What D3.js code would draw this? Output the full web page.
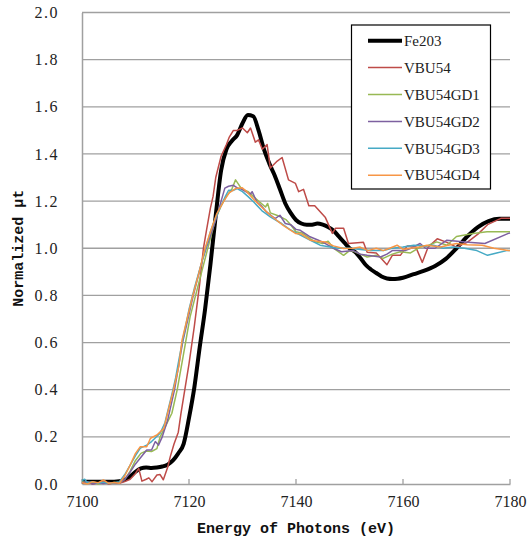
<!DOCTYPE html>
<html><head><meta charset="utf-8">
<script src="https://cdn.jsdelivr.net/npm/d3@7"></script>
<style>
html,body{margin:0;padding:0;background:#fff;}
svg{display:block;}
.serif{font-family:"Liberation Serif","DejaVu Serif",serif;}
.mono{font-family:"Liberation Mono","DejaVu Sans Mono",monospace;font-weight:bold;}
</style></head>
<body>
<svg id="chart" width="531" height="543"></svg>
<script>
// ---- data ----
const seriesNames = ["Fe203","VBU54","VBU54GD1","VBU54GD2","VBU54GD3","VBU54GD4"];
const seriesColors = ["#000000","#BE4B48","#98B954","#7D60A0","#46AAC5","#F79646"];
const xTicks = [7100,7120,7140,7160,7180];
const yTicks = [0,0.2,0.4,0.6,0.8,1.0,1.2,1.4,1.6,1.8,2.0];

const fe2o3E = [7100,7102,7104,7106,7107,7108,7109,7110,7111,7112,7113,7114,7115,7116,7117,7118,7119,7120,7121,7122,7123,7124,7125,7126,7127,7128,7129,7130,7131,7132,7133,7134,7135,7136,7137,7138,7139,7140,7141,7142,7143,7144,7145,7146,7147,7148,7149,7150,7151,7152,7153,7154,7155,7156,7157,7158,7159,7160,7162,7164,7166,7168,7170,7172,7174,7176,7178,7180];
const fe2o3Mu = [0.01,0.01,0.01,0.01,0.012,0.018,0.032,0.052,0.066,0.07,0.068,0.07,0.074,0.082,0.1,0.13,0.17,0.28,0.41,0.58,0.74,0.93,1.14,1.33,1.42,1.455,1.48,1.53,1.565,1.56,1.5,1.42,1.36,1.31,1.25,1.19,1.15,1.12,1.105,1.1,1.1,1.105,1.1,1.09,1.075,1.05,1.025,1.0,0.985,0.96,0.93,0.91,0.895,0.88,0.872,0.87,0.871,0.875,0.89,0.905,0.925,0.955,1.0,1.05,1.09,1.115,1.125,1.125];

const vbu54E = [7100,7101,7102,7103,7104,7105,7106,7107,7108,7109,7110,7110.6,7111.2,7112,7112.5,7113.1,7114,7114.6,7115.2,7116,7116.5,7117.2,7118,7118.5,7119,7120,7121,7122,7122.7,7123.3,7124,7124.5,7125,7126,7127,7127.5,7128.3,7129,7130,7130.9,7131.5,7132.4,7133,7133.7,7134.6,7135.2,7136.5,7137.4,7138.6,7139.9,7140.5,7141.4,7142.4,7143.5,7145.5,7146.8,7147.4,7148.9,7149.8,7152.6,7153.3,7155,7157,7158,7159.5,7160.8,7162.3,7163.6,7164.7,7166.4,7168.2,7170,7172,7174,7175.8,7178.3,7180];
const vbu54Mu = [0.005,0.01,0.0,0.005,0.01,0.0,0.005,0.003,0.01,0.02,0.045,0.066,0.012,0.02,0.026,0.01,0.038,0.04,0.018,0.07,0.116,0.17,0.22,0.3,0.37,0.51,0.67,0.85,1.0,1.08,1.17,1.22,1.3,1.39,1.44,1.47,1.5,1.5,1.51,1.49,1.51,1.45,1.46,1.42,1.44,1.34,1.37,1.385,1.29,1.275,1.24,1.25,1.18,1.18,1.13,1.063,1.085,1.085,1.02,1.025,0.983,0.98,0.93,0.97,0.97,1.01,1.01,0.94,1.005,1.04,1.025,1.005,1.025,1.06,1.10,1.127,1.127];

const gd1E = [7100,7101,7102,7103,7104,7105,7106,7107,7108,7109,7110,7111,7112,7113,7114,7114.6,7115.5,7116.8,7117.8,7119,7120.2,7121.8,7123.4,7124.9,7126,7127,7128,7128.7,7129.9,7131.1,7132,7133,7134.3,7134.7,7135.2,7136.4,7137.4,7138.2,7139,7140,7141.1,7142.7,7143.6,7145,7146,7147,7148.9,7150,7151,7152,7153.3,7155,7156.3,7158,7159.5,7161.4,7163.2,7164.5,7166.3,7168.2,7170,7173.1,7175.7,7180];
const gd1Mu = [0.01,0.005,0.008,0.0,0.005,0.003,0.006,0.005,0.02,0.055,0.1,0.13,0.14,0.138,0.15,0.2,0.24,0.3,0.4,0.554,0.709,0.85,0.99,1.12,1.18,1.22,1.25,1.29,1.25,1.24,1.22,1.2,1.175,1.19,1.15,1.14,1.13,1.12,1.10,1.07,1.065,1.04,1.027,1.02,1.03,1.0,0.97,0.99,0.985,0.975,0.963,0.97,0.957,0.975,0.985,0.98,1.005,1.01,1.027,1.013,1.05,1.063,1.07,1.07];

const gd2E = [7100,7101,7102,7103,7104,7105,7106,7107,7108,7109,7110,7110.9,7112.1,7113,7113.7,7114.3,7115,7116,7117.3,7118.8,7120.8,7122.5,7123.5,7125,7126,7126.7,7127.4,7128.3,7129.1,7129.9,7131,7131.5,7131.8,7132.7,7133.5,7134.5,7135.3,7136.1,7137,7138,7139,7140,7140.8,7142.5,7144.2,7145.5,7147,7148.5,7150.7,7152,7153.3,7155.8,7157,7158,7160.4,7161.5,7163.2,7164.2,7166,7168.2,7171.6,7175.3,7179.7,7180];
const gd2Mu = [0.005,0.01,0.0,0.005,0.002,0.006,0.003,0.005,0.02,0.05,0.085,0.11,0.144,0.144,0.18,0.165,0.2,0.27,0.4,0.6,0.8,0.95,1.02,1.12,1.2,1.255,1.263,1.267,1.255,1.25,1.235,1.23,1.24,1.196,1.18,1.154,1.14,1.126,1.14,1.105,1.10,1.08,1.076,1.05,1.034,1.02,1.0,0.985,0.99,0.975,0.97,0.963,0.975,0.99,0.99,1.0,1.02,1.0,1.0,1.034,1.027,1.02,1.063,1.065];

const gd3E = [7100,7100.5,7101,7102,7103,7104,7105,7106,7107,7108,7109,7110,7110.9,7112.1,7113,7114.6,7115.5,7116.8,7117.5,7118.3,7119,7120,7121,7122,7123,7124,7125,7126,7126.8,7127.4,7128.2,7129,7130,7131,7132.1,7133.6,7135.2,7137.3,7138.8,7140.2,7142.7,7144.5,7146.4,7148,7150.1,7152,7154,7156.3,7158,7160,7162,7164,7165.7,7167.5,7169.4,7171.5,7173.8,7175.8,7177.5,7179.4,7180];
const gd3Mu = [0.015,0.02,0.005,0.01,0.003,0.008,0.002,0.005,0.01,0.04,0.08,0.12,0.152,0.165,0.18,0.215,0.26,0.38,0.45,0.55,0.63,0.74,0.83,0.91,0.99,1.07,1.13,1.18,1.22,1.246,1.245,1.253,1.24,1.22,1.196,1.16,1.133,1.105,1.08,1.063,1.034,1.013,1.005,1.0,1.0,0.995,0.99,0.99,1.0,1.005,1.013,1.01,1.013,1.0,1.005,1.0,0.99,0.97,0.98,0.99,0.99];

const gd4E = [7100,7101,7102,7103,7104,7105,7106,7107,7108,7109,7110,7110.9,7112.1,7112.8,7114,7115.3,7116,7117.1,7118.1,7118.7,7119.3,7120.6,7121.8,7123,7124.3,7125.2,7126.5,7127.5,7128.7,7129.9,7130.8,7132,7133.3,7135.2,7137.6,7139.9,7141,7142.7,7144,7145.5,7147,7148.9,7150.7,7152,7153.5,7155,7156.3,7157.5,7158.9,7160,7161.4,7163,7164.5,7167,7170,7172,7174.8,7177,7179.7,7180];
const gd4Mu = [0.005,0.0,0.01,0.005,0.017,0.003,0.006,0.003,0.035,0.08,0.13,0.158,0.158,0.194,0.208,0.236,0.3,0.4,0.5,0.61,0.667,0.79,0.89,1.0,1.09,1.147,1.2,1.235,1.253,1.257,1.24,1.21,1.18,1.14,1.097,1.063,1.06,1.034,1.03,1.027,1.01,0.999,1.0,1.005,0.99,1.0,0.99,1.0,1.013,0.995,1.0,1.005,1.013,1.005,1.02,1.015,1.013,1.0,0.99,0.99];

const seriesE = [fe2o3E, vbu54E, gd1E, gd2E, gd3E, gd4E];
const seriesMu = [fe2o3Mu, vbu54Mu, gd1Mu, gd2Mu, gd3Mu, gd4Mu];

// ---- chart ----
const svg = d3.select("#chart");
const x = d3.scaleLinear().domain([7100,7180]).range([82,510]);
const y = d3.scaleLinear().domain([0,2]).range([484,12.5]);
const gridColor = "#A0A0A0";

// gridlines
svg.append("g").selectAll("line").data(yTicks.filter(d=>d>0)).join("line")
  .attr("x1",x(7100)).attr("x2",x(7180))
  .attr("y1",d=>y(d)).attr("y2",d=>y(d))
  .attr("stroke",gridColor).attr("stroke-width",1.3);

// y axis
const yAxis = svg.append("g").attr("transform",`translate(${x(7100)},0)`)
  .call(d3.axisLeft(y).tickValues(yTicks).tickSize(0).tickPadding(23).tickFormat(d3.format(".1f")));
yAxis.attr("font-family",null);
yAxis.select(".domain").attr("stroke",gridColor).attr("stroke-width",1.5);
yAxis.selectAll("text").attr("class","serif").attr("font-size",16).attr("fill","#222")
  .style("letter-spacing","1.5px");

// x axis
const xAxis = svg.append("g").attr("transform",`translate(0,${y(0)})`)
  .call(d3.axisBottom(x).tickValues(xTicks).tickSize(0).tickPadding(12).tickFormat(d3.format("d")));
xAxis.attr("font-family",null);
xAxis.select(".domain").attr("stroke",gridColor).attr("stroke-width",1.5);
xAxis.selectAll("text").attr("class","serif").attr("font-size",16).attr("fill","#222");
// inward tick marks
svg.append("g").selectAll("line").data(xTicks).join("line")
  .attr("x1",d=>x(d)).attr("x2",d=>x(d)).attr("y1",y(0)).attr("y2",y(0)-5)
  .attr("stroke",gridColor).attr("stroke-width",1.3);

// series
const line = d3.line().x(d=>x(d[0])).y(d=>y(d[1]));
const smooth = d3.line().x(d=>x(d[0])).y(d=>y(d[1])).curve(d3.curveMonotoneX);
seriesNames.forEach((name,i)=>{
  const pts = seriesE[i].map((e,j)=>[e, seriesMu[i][j]]);
  svg.append("path").datum(pts)
    .attr("d", i===0 ? smooth : line)
    .attr("fill","none")
    .attr("stroke",seriesColors[i])
    .attr("stroke-width", i===0 ? 4 : 1.5)
    .attr("stroke-linejoin","round");
});

// axis titles
svg.append("text").attr("class","mono").attr("x",(x(7100)+x(7180))/2).attr("y",533)
  .attr("text-anchor","middle")
  .attr("font-size",15).attr("fill","#111").text("Energy of Photons (eV)");
svg.append("text").attr("class","mono").attr("transform",`translate(23,${(y(0)+y(2))/2}) rotate(-90)`)
  .attr("text-anchor","middle")
  .attr("font-size",15).attr("fill","#111").text("Normalized μt");

// legend
const lg = svg.append("g");
lg.append("rect").attr("x",351.5).attr("y",25).attr("width",139).attr("height",164)
  .attr("fill","#fff").attr("stroke","#000").attr("stroke-width",1.2);
seriesNames.forEach((name,i)=>{
  const cy = 40.7 + i*26.9;
  lg.append("line").attr("x1",368).attr("x2",402).attr("y1",cy).attr("y2",cy)
    .attr("stroke",seriesColors[i]).attr("stroke-width", i===0 ? 4 : 1.5);
  lg.append("text").attr("class","serif").attr("x",404).attr("y",cy).attr("dy","0.35em")
    .attr("font-size",15).attr("fill","#222").text(name);
});
</script>
</body></html>
